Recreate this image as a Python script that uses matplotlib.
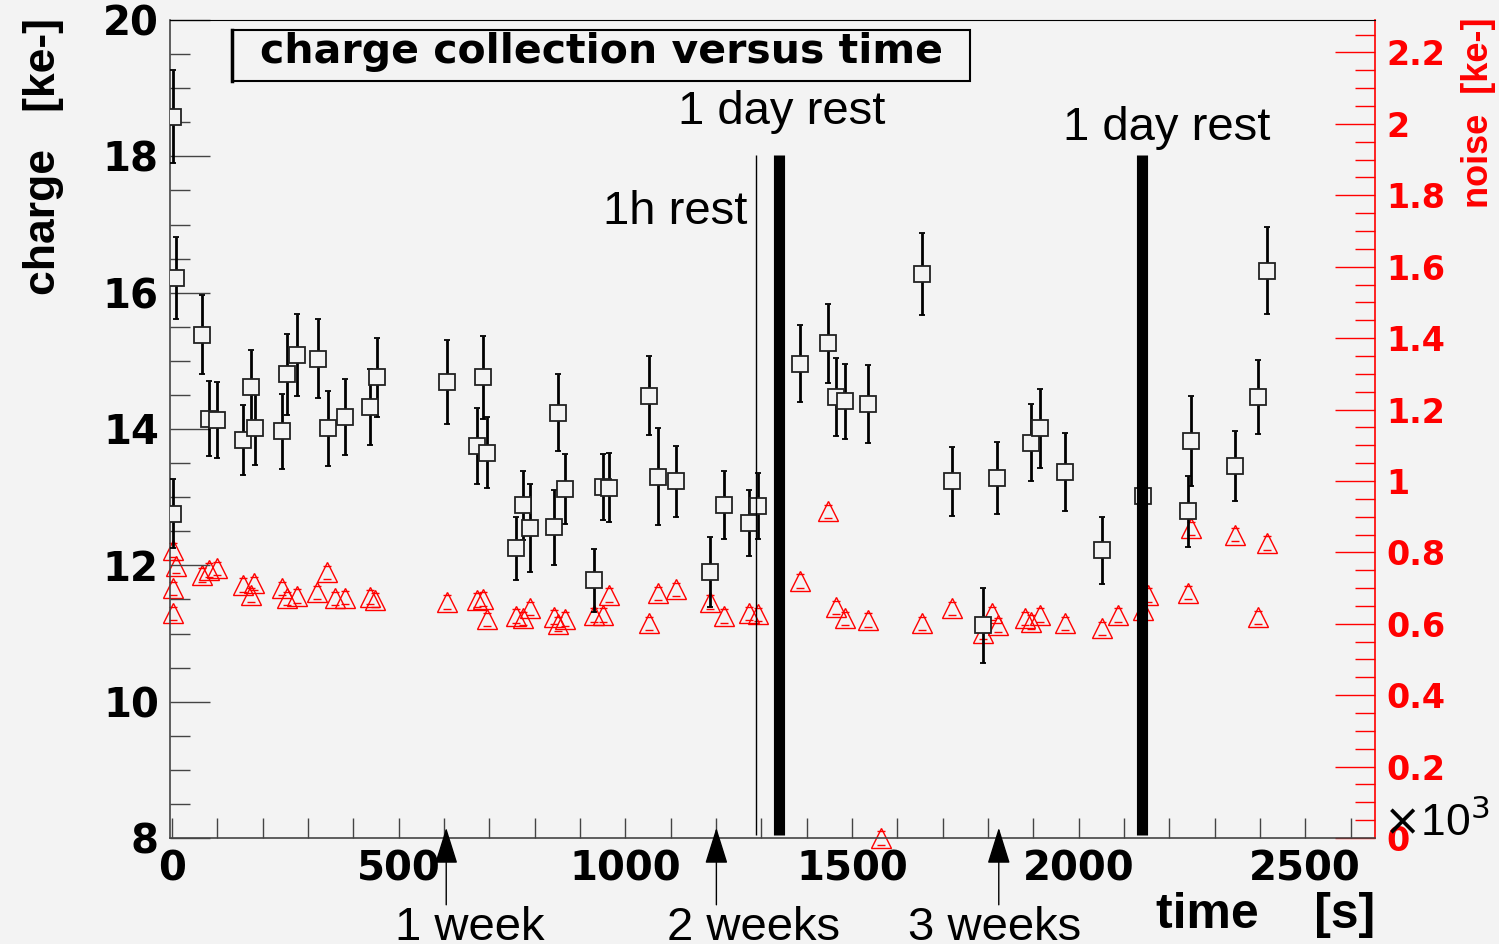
import matplotlib
matplotlib.use("Agg")
import matplotlib.pyplot as plt
from matplotlib.patches import Rectangle
from matplotlib.ticker import MultipleLocator, FixedLocator

# charge measurements (time in s x10^3 units as on the axis)
charge_t = [1.5, 3, 9, 66, 82, 100, 157, 174, 183, 243, 254, 275, 323, 344, 382, 437, 452,
            607, 673, 687, 696, 759, 775, 790, 843, 852, 866, 932, 951, 965, 1053, 1072, 1113,
            1187, 1218, 1274, 1292, 1385, 1448, 1465, 1484, 1536, 1654, 1720, 1790, 1821,
            1896, 1915, 1970, 2052, 2143, 2241, 2247, 2346, 2395, 2415]
charge = [12.76, 18.58, 16.21, 15.38, 14.15, 14.13, 13.84, 14.62, 14.01, 13.97, 14.80, 15.09,
          15.03, 14.01, 14.18, 14.32, 14.76, 14.69, 13.75, 14.76, 13.65, 12.25, 12.88, 12.55,
          12.56, 14.24, 13.12, 11.78, 13.15, 13.14, 14.49, 13.30, 13.23, 11.90, 12.88, 12.62,
          12.87, 14.96, 15.26, 14.47, 14.41, 14.37, 16.27, 13.23, 11.12, 13.28, 13.80, 14.01,
          13.37, 12.22, 13.01, 12.79, 13.82, 13.46, 14.47, 16.32]
charge_err = [0.50, 0.68, 0.60, 0.58, 0.55, 0.56, 0.51, 0.54, 0.54, 0.55, 0.60, 0.60, 0.58,
              0.55, 0.56, 0.56, 0.58, 0.62, 0.56, 0.61, 0.52, 0.46, 0.51, 0.65, 0.55, 0.56,
              0.52, 0.46, 0.49, 0.51, 0.58, 0.71, 0.52, 0.51, 0.50, 0.49, 0.48, 0.56, 0.58,
              0.57, 0.55, 0.57, 0.60, 0.51, 0.55, 0.53, 0.56, 0.58, 0.57, 0.49, 0.50, 0.52,
              0.66, 0.51, 0.54, 0.64]

# noise measurements
noise_t = [1.5, 1.5, 3, 9, 66, 82, 100, 157, 174, 181, 242, 253, 275, 321, 343, 360, 382, 437,
           448, 607, 673, 687, 696, 759, 775, 790, 843, 852, 866, 932, 951, 965, 1053, 1072,
           1113, 1187, 1218, 1274, 1292, 1385, 1448, 1465, 1484, 1536, 1564, 1654, 1720, 1790,
           1810, 1823, 1881, 1894, 1915, 1970, 2052, 2087, 2143, 2154, 2241, 2247, 2346, 2395,
           2415]
noise = [0.699, 0.629, 0.806, 0.761, 0.736, 0.750, 0.755, 0.708, 0.680, 0.713, 0.699, 0.671,
         0.678, 0.688, 0.744, 0.671, 0.673, 0.675, 0.666, 0.661, 0.666, 0.670, 0.612, 0.621,
         0.615, 0.643, 0.619, 0.599, 0.613, 0.624, 0.624, 0.680, 0.601, 0.685, 0.696, 0.661,
         0.621, 0.629, 0.626, 0.720, 0.915, 0.646, 0.615, 0.610, 0.0, 0.601, 0.643, 0.575,
         0.629, 0.596, 0.615, 0.605, 0.624, 0.601, 0.587, 0.624, 0.638, 0.680, 0.687, 0.867,
         0.850, 0.618, 0.826]

rest_t = [1289, 1339, 2140]
rest_lw = [1.0, 8.0, 8.0]
rest_labels = [("1h rest", 951, 17.01), ("1 day rest", 1116, 18.47), ("1 day rest", 1965, 18.24)]

week_t = [605, 1201, 1824]
week_labels = ["1 week", "2 weeks", "3 weeks"]
week_text_t = [492, 1092, 1624]

bg = "#f3f3f3"
fig = plt.figure(figsize=(14.99, 9.44), dpi=100, facecolor=bg)
ax = fig.add_axes([170 / 1499, 1 - 838 / 944, 1205 / 1499, 818 / 944])
ax.set_facecolor(bg)
ax.set_xlim(-4.4, 2654)
ax.set_ylim(8, 20)

ax2 = ax.twinx()
ax2.set_ylim(0, 2.291)

bold = dict(family="DejaVu Sans", weight="bold")

# noise (red triangles) on right axis, tiny error caps at apex and base
ax2.errorbar(noise_t, noise, yerr=0.019, fmt="^", ms=15, mfc="none", mec="red", mew=1.0,
             ecolor="red", elinewidth=0, capsize=3, capthick=2, clip_on=False, zorder=2)

# charge (open squares) on left axis
ax.errorbar(charge_t, charge, yerr=charge_err, fmt="s", ms=11, mfc=bg, mec="#222222",
            mew=1.3, ecolor="black", elinewidth=2.0, capsize=2.5, capthick=2.5, zorder=3)
ax.set_zorder(ax2.get_zorder() + 1)
ax.patch.set_visible(False)
ax2.patch.set_facecolor(bg)

# rest markers
for t, lw in zip(rest_t, rest_lw):
    ax.plot([t, t], [8.04, 18.02], color="black", lw=lw, solid_capstyle="butt", zorder=5)
for txt, t, y in rest_labels:
    ax.text(t, y, txt, fontsize=34, family="Liberation Sans", va="baseline", ha="left")

# week arrows below axis
for t, lab, tt in zip(week_t, week_labels, week_text_t):
    ax.annotate("", xy=(t, 8.15), xytext=(t, 7.02), annotation_clip=False,
                arrowprops=dict(arrowstyle="-|>,head_length=1.15,head_width=0.36",
                                mutation_scale=20, color="black", lw=1,
                                shrinkA=0, shrinkB=0))
    ax.text(tt, 6.5, lab, fontsize=34, family="Liberation Sans", va="baseline",
            ha="left", clip_on=False)

# left axis styling
ax.yaxis.set_major_locator(MultipleLocator(2))
ax.yaxis.set_minor_locator(MultipleLocator(0.5))
ax.xaxis.set_major_locator(MultipleLocator(500))
ax.xaxis.set_minor_locator(FixedLocator(list(range(0, 2700, 100))))
ax.tick_params(axis="y", which="major", direction="in", length=29, width=1,
               color="#444444", pad=8, labelsize=29, right=False)
ax.tick_params(axis="y", which="minor", direction="in", length=14.4, width=1,
               color="#444444", right=False)
ax.tick_params(axis="x", which="both", direction="in", length=14.4, width=1,
               color="#444444", pad=8, labelsize=29, top=False)
for lab in ax.get_xticklabels() + ax.get_yticklabels():
    lab.set_fontweight("bold")
for s in ["left", "bottom"]:
    ax.spines[s].set_color("#444444")
    ax.spines[s].set_linewidth(1.2)
ax.spines["top"].set_color("black")
ax.spines["right"].set_visible(False)

# right axis styling
noise_ticks = [0, 0.2, 0.4, 0.6, 0.8, 1.0, 1.2, 1.4, 1.6, 1.8, 2.0, 2.2]
ax2.yaxis.set_major_locator(FixedLocator(noise_ticks))
ax2.set_yticklabels(["0", "0.2", "0.4", "0.6", "0.8", "1", "1.2", "1.4", "1.6", "1.8", "2", "2.2"])
ax2.yaxis.set_minor_locator(MultipleLocator(0.05))
ax2.tick_params(axis="y", which="major", direction="in", length=29, width=1, color="red",
                labelcolor="red", pad=8, labelsize=24)
ax2.tick_params(axis="y", which="minor", direction="in", length=14.4, width=1, color="red")
for lab in ax2.get_yticklabels():
    lab.set_fontweight("bold")
ax2.spines["right"].set_color("red")
ax2.spines["right"].set_linewidth(1.2)
for s in ["left", "top", "bottom"]:
    ax2.spines[s].set_visible(False)

# axis titles
fig.text(44 / 1499, 1 - 18 / 944, "charge   [ke-]", rotation=90, ha="center", va="top",
         fontsize=32, family="Liberation Sans", weight="bold")
fig.text(1478 / 1499, 1 - 18 / 944, "noise  [ke-]", rotation=90, ha="center", va="top",
         fontsize=26, family="Liberation Sans", weight="bold", color="red")
fig.text(1375 / 1499, 1 - 928 / 944, "time    [s]", ha="right", va="baseline",
         fontsize=36, family="Liberation Sans", weight="bold")
fig.text(1383 / 1499, 1 - 836 / 944, r"$\times$10$^3$", ha="left", va="baseline",
         fontsize=32, family="Liberation Sans")

# title box
fig.patches.append(Rectangle((232 / 1499, 1 - 81 / 944), 738 / 1499, 51 / 944,
                             transform=fig.transFigure, fill=False, ec="black", lw=1.5))
fig.lines.append(plt.Line2D([232 / 1499, 232 / 1499], [1 - 81 / 944, 1 - 30 / 944],
                            transform=fig.transFigure, color="black", lw=2.5))
fig.text(602 / 1499, 1 - 63 / 944, "charge collection versus time", ha="center",
         va="baseline", fontsize=29.5, **bold)

fig.savefig("out.png", dpi=100, facecolor=bg)
